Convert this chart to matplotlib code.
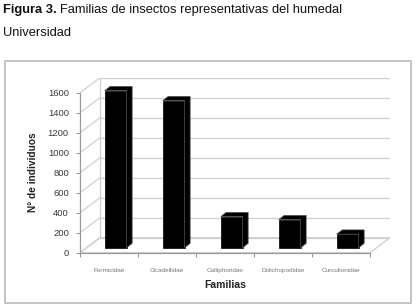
import matplotlib
matplotlib.use("Agg")
import matplotlib.pyplot as plt
from matplotlib.patches import Polygon, Rectangle
from matplotlib import font_manager

categories = ["Formicidae", "Cicadellidae", "Calliphoridae", "Dolichopodidae", "Curculionidae"]
values = [1570, 1470, 310, 280, 135]
yticks = [0, 200, 400, 600, 800, 1000, 1200, 1400, 1600]

avail = {f.name for f in font_manager.fontManager.ttflist}
narrow = "Liberation Sans Narrow" if "Liberation Sans Narrow" in avail else "Liberation Sans"
plt.rcParams['font.family'] = ['Liberation Sans', 'DejaVu Sans']

W, H = 417, 305
fig = plt.figure(figsize=(W / 100, H / 100), dpi=100)
fig.patch.set_facecolor("white")

# outer chart border
fig.add_artist(Rectangle((4.5 / W, 1 - 303 / H), (411 - 4.5) / W, (303 - 61) / H,
                         transform=fig.transFigure, fill=False, edgecolor="#c4c4c4", lw=1.4))

# plot area: px 80..390 horizontally, 77.7..252.7 vertically
px_cat = 58.0
ax = fig.add_axes([80 / W, 1 - 252.7 / H, 310 / W, 175 / H])
ax.set_xlim(-0.5, -0.5 + 310 / px_cat)
ax.set_ylim(0, 1750)
ax.patch.set_alpha(0)

dx = 20 / px_cat   # depth offset in category units
dy = 150           # depth offset in value units
n = len(categories)
xl, xr = -0.5, n - 0.5
grid_c = "#cfcfcf"

# floor
ax.add_patch(Polygon([(xl, 0), (xr, 0), (xr + dx, dy), (xl + dx, dy)], closed=True,
                     facecolor="white", edgecolor=grid_c, lw=0.9, zorder=1))
# back wall gridlines and left wall diagonals
for v in yticks:
    ax.plot([xl + dx, xr + dx], [v + dy, v + dy], color=grid_c, lw=0.9, zorder=1)
    ax.plot([xl, xl + dx], [v, v + dy], color=grid_c, lw=0.9, zorder=1)
ax.plot([xl + dx, xl + dx], [dy, yticks[-1] + dy], color=grid_c, lw=0.9, zorder=1)

# bars (front face + top + side)
bw = 22 / px_cat
bx, by = dx / 3, dy / 3
tdx, tdy = 5.5 / px_cat, 43
for i, v in enumerate(values):
    x0 = i - bw / 2 + bx
    x1 = i + bw / 2 + bx
    ax.bar(i + bx, v, width=bw, bottom=by, color="black", edgecolor="black", lw=0.5, zorder=3)
    ax.add_patch(Polygon([(x0, by + v), (x0 + tdx, by + v + tdy), (x1 + tdx, by + v + tdy),
                          (x1 + tdx, by + tdy), (x1, by), (x1, by + v)], closed=True,
                         facecolor="black", edgecolor="#555555", lw=0.5, zorder=3))

# axes lines
for s in ["top", "right"]:
    ax.spines[s].set_visible(False)
ax.spines["left"].set_bounds(0, 1600)
ax.spines["bottom"].set_bounds(xl, xr)
for s in ["left", "bottom"]:
    ax.spines[s].set_color("#9a9a9a")
    ax.spines[s].set_linewidth(0.9)
ax.set_yticks(yticks)
ax.set_yticklabels([str(v) for v in yticks])
ax.tick_params(axis="y", length=3, width=0.8, color="#9a9a9a", pad=5,
               labelsize=6.8, labelcolor="#3a3a3a")
ax.set_xticks(range(n))
ax.set_xticklabels(categories)
ax.set_xticks([k + 0.5 for k in range(-1, n)], minor=True)
ax.tick_params(axis="x", which="major", length=0, pad=11, labelsize=4.6, labelcolor="#777777")
ax.tick_params(axis="x", which="minor", length=3, width=0.8, color="#9a9a9a")

# axis titles
fig.text(33 / W, 1 - 172 / H, "N° de individuos", rotation=90, ha="center", va="center",
         fontsize=7.3, fontweight="bold", color="#222222")
fig.text(225 / W, 1 - 285 / H, "Familias", ha="center", va="center",
         fontsize=7.5, fontweight="bold", color="#222222")

# caption
tfam = [narrow, 'DejaVu Sans']
t1 = fig.text(3 / W, 1 - 13 / H, "Figura 3.", ha="left", va="baseline", fontsize=9.3,
              fontweight="bold", family=tfam, color="#111111")
r = fig.canvas.get_renderer()
bb = t1.get_window_extent(renderer=r)
fig.text(bb.x1 / W + 3 / W, 1 - 13 / H, "Familias de insectos representativas del humedal",
         ha="left", va="baseline", fontsize=9.3, family=tfam, color="#111111")
fig.text(3 / W, 1 - 36 / H, "Universidad", ha="left", va="baseline", fontsize=9.3,
         family=tfam, color="#111111")

fig.savefig("out.png", dpi=100, facecolor="white")
